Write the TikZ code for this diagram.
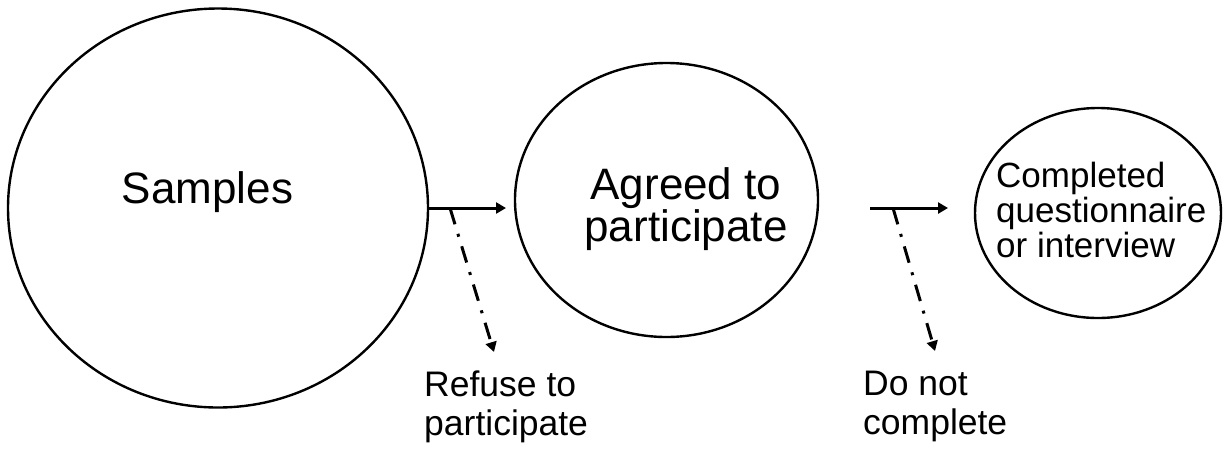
\documentclass[tikz,border=0pt]{standalone}
\usepackage{fontspec}
\setmainfont{Liberation Sans}
\usetikzlibrary{shapes.geometric,arrows.meta}
\begin{document}
\begin{tikzpicture}[x=1pt,y=-1pt,
  circ/.style={draw,ellipse,line width=2.4pt,inner sep=0pt},
  bigtext/.style={font=\fontsize{44}{41}\selectfont,inner sep=0pt},
  smalltext/.style={font=\fontsize{35.5}{39}\selectfont,inner sep=0pt,align=left,anchor=north west},
  flow/.style={line width=3pt,-{Triangle[length=10pt,width=11pt]}},
  drop/.style={line width=3pt,dash pattern=on 17pt off 10pt on 3pt off 10pt,-{Triangle[length=10pt,width=11pt]}}]
\useasboundingbox (0,0) rectangle (1223,451);
\fill[white] (0,0) rectangle (1223,451);
% ellipses
\node[circ,minimum width=420pt,minimum height=399pt] (samples) at (218,208) {};
\node[circ,minimum width=303pt,minimum height=274pt] (agreed) at (666.5,200) {};
\node[circ,minimum width=246pt,minimum height=210pt] (completed) at (1098,213) {};
% texts
\node[bigtext,anchor=base] (samplesT) at (207.5,203) {Samples};
\node[bigtext,align=center,anchor=north] (agreedT) at (686,167) {Agreed to\\participate};
\node[font=\fontsize{35}{35}\selectfont,inner sep=0pt,align=left,anchor=north west] (completedT) at (996,162) {Completed\\questionnaire\\or interview};
\node[smalltext] (refuse) at (424,371) {Refuse to\\participate};
\node[smalltext] (donot) at (863,371) {Do not\\complete};
% connectors
\coordinate (b1) at (450,208);
\coordinate (e1) at (506,208);
\coordinate (d1) at (494,352);
\coordinate (s2) at (870,208);
\coordinate (b2) at (893,208);
\coordinate (e2) at (948,208);
\coordinate (d2) at (935,351);
\draw[flow] (samples.east) -- (e1);
\draw[drop] (b1) -- (d1);
\draw[flow] (s2) -- (e2);
\draw[drop] (b2) -- (d2);
\end{tikzpicture}
\end{document}
